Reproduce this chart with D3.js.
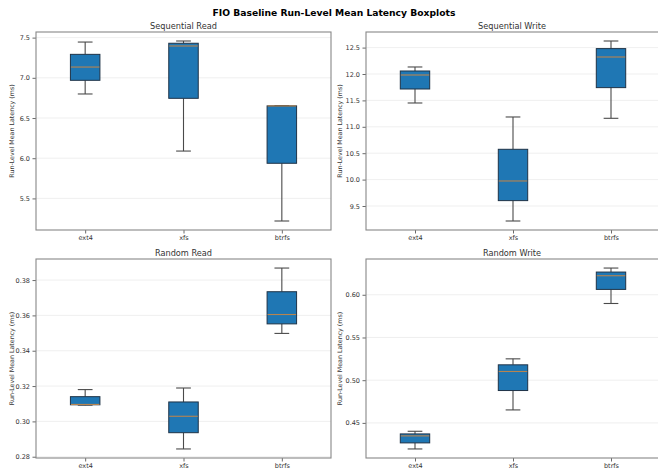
<!DOCTYPE html>
<html><head><meta charset="utf-8">
<script src="https://cdn.jsdelivr.net/npm/d3@7"></script>
<style>body{margin:0;background:#fff}svg{display:block;font-family:"DejaVu Sans",sans-serif}</style>
</head><body>
<script>
const title = "FIO Baseline Run-Level Mean Latency Boxplots";
const filesystems = ["ext4", "xfs", "btrfs"];
const panelTitles = ["Sequential Read", "Sequential Write", "Random Read", "Random Write"];
const yLabel = "Run-Level Mean Latency (ms)";
// [min, q1, median, q3, max] per filesystem
const seqRead = [[6.799, 6.969, 7.134, 7.292, 7.445], [6.089, 6.745, 7.396, 7.430, 7.458], [5.219, 5.937, 6.650, 6.651, 6.655]];
const seqWrite = [[11.451, 11.716, 11.981, 12.057, 12.133], [9.216, 9.602, 9.974, 10.574, 11.186], [11.161, 11.742, 12.322, 12.481, 12.625]];
const randRead = [[0.3092, 0.3094, 0.3096, 0.3140, 0.3180], [0.2844, 0.2936, 0.3029, 0.3110, 0.3189], [0.3498, 0.3552, 0.3605, 0.3734, 0.3868]];
const randWrite = [[0.4195, 0.4266, 0.4348, 0.4371, 0.4402], [0.4652, 0.4879, 0.5102, 0.5180, 0.5250], [0.5898, 0.6063, 0.6223, 0.6266, 0.6313]];
const yTicks = [[5.5, 6.0, 6.5, 7.0, 7.5], [9.5, 10.0, 10.5, 11.0, 11.5, 12.0, 12.5], [0.28, 0.30, 0.32, 0.34, 0.36, 0.38], [0.45, 0.50, 0.55, 0.60]];
const tickFmt = [".1f", ".1f", ".2f", ".2f"];

const W = 658, H = 469;
const svg = d3.select("body").append("svg").attr("width", W).attr("height", H);
svg.append("text").attr("x", 334).attr("y", 15.5).attr("text-anchor", "middle")
  .attr("font-size", 9.2).attr("font-weight", "bold").attr("fill", "#000").text(title);

const panels = [
  {data: seqRead, x0: 36, x1: 331, y0: 32, y1: 230},
  {data: seqWrite, x0: 366, x1: 660, y0: 32, y1: 230},
  {data: randRead, x0: 36, x1: 331, y0: 259, y1: 458},
  {data: randWrite, x0: 366, x1: 660, y0: 259, y1: 458}
];

panels.forEach((p, i) => {
  const g = svg.append("g");
  const lo = d3.min(p.data, d => d[0]), hi = d3.max(p.data, d => d[4]);
  const pad = (hi - lo) * 0.05;
  const y = d3.scaleLinear().domain([lo - pad, hi + pad]).range([p.y1, p.y0]);
  const x = d3.scaleLinear().domain([0.5, 3.5]).range([p.x0, p.x1]);
  const bw = x(0.15) - x(0);

  g.selectAll(".grid").data(yTicks[i]).join("line")
    .attr("x1", p.x0).attr("x2", p.x1).attr("y1", d => y(d)).attr("y2", d => y(d))
    .attr("stroke", "#ebebeb").attr("stroke-width", 0.8);

  const ya = g.append("g").attr("transform", `translate(${p.x0},0)`)
    .call(d3.axisLeft(y).tickValues(yTicks[i]).tickFormat(d3.format(tickFmt[i])).tickSize(3.5).tickPadding(2.5));
  ya.select(".domain").remove();
  ya.selectAll("line").attr("stroke", "#444").attr("stroke-width", 0.8);
  ya.selectAll("text").attr("font-size", 6.5).attr("fill", "#333").attr("font-family", "DejaVu Sans");

  const xa = g.append("g").attr("transform", `translate(0,${p.y1})`)
    .call(d3.axisBottom(x).tickValues([1, 2, 3]).tickFormat((d, k) => filesystems[k]).tickSize(3.5).tickPadding(2));
  xa.select(".domain").remove();
  xa.selectAll("line").attr("stroke", "#444").attr("stroke-width", 0.8);
  xa.selectAll("text").attr("font-size", 6.5).attr("fill", "#333").attr("font-family", "DejaVu Sans");

  p.data.forEach((d, k) => {
    const cx = x(k + 1);
    const wc = "#4a4a4a";
    g.append("line").attr("x1", cx).attr("x2", cx).attr("y1", y(d[0])).attr("y2", y(d[1])).attr("stroke", wc).attr("stroke-width", 1.1);
    g.append("line").attr("x1", cx).attr("x2", cx).attr("y1", y(d[3])).attr("y2", y(d[4])).attr("stroke", wc).attr("stroke-width", 1.1);
    g.append("line").attr("x1", cx - bw / 2).attr("x2", cx + bw / 2).attr("y1", y(d[0])).attr("y2", y(d[0])).attr("stroke", wc).attr("stroke-width", 1.1);
    g.append("line").attr("x1", cx - bw / 2).attr("x2", cx + bw / 2).attr("y1", y(d[4])).attr("y2", y(d[4])).attr("stroke", wc).attr("stroke-width", 1.1);
    g.append("rect").attr("x", cx - bw).attr("width", 2 * bw).attr("y", y(d[3])).attr("height", Math.max(0.1, y(d[1]) - y(d[3])))
      .attr("fill", "#1f77b4").attr("stroke", "#1f3347").attr("stroke-width", 1);
    g.append("line").attr("x1", cx - bw + 0.5).attr("x2", cx + bw - 0.5).attr("y1", y(d[2])).attr("y2", y(d[2]))
      .attr("stroke", "#b8844f").attr("stroke-width", 1.1);
  });

  g.append("rect").attr("x", p.x0).attr("y", p.y0).attr("width", p.x1 - p.x0).attr("height", p.y1 - p.y0)
    .attr("fill", "none").attr("stroke", "#888").attr("stroke-width", 1.1);

  g.append("text").attr("x", (p.x0 + p.x1) / 2 - (i % 2 ? 1 : 0)).attr("y", p.y0 - 3.5).attr("text-anchor", "middle")
    .attr("font-size", 8.2).attr("fill", "#333").text(panelTitles[i]);
  const lx = i % 2 ? 342 : 13.5;
  g.append("text").attr("transform", `translate(${lx},${(p.y0 + p.y1) / 2}) rotate(-90)`).attr("text-anchor", "middle")
    .attr("font-size", 6.3).attr("fill", "#333").text(yLabel);
});
</script>
</body></html>
